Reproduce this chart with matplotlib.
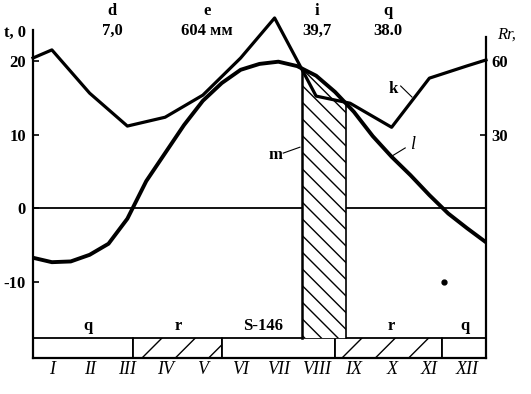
import matplotlib
matplotlib.use("Agg")
import matplotlib.pyplot as plt
import numpy as np

months = ["I", "II", "III", "IV", "V", "VI", "VII", "VIII", "IX", "X", "XI", "XII"]

# temperature curve l (deg), read at month boundaries and month centres
l_x = [0, 0.5, 1, 1.5, 2, 2.5, 3, 3.5, 4, 4.5, 5, 5.5, 6, 6.5, 7, 7.5, 8, 8.5, 9, 9.5, 10, 10.5, 11, 11.5, 12]
l_t = [-6.7, -7.3, -7.2, -6.3, -4.8, -1.4, 3.7, 7.5, 11.3, 14.6, 17.0, 18.8, 19.6, 19.9,
       19.3, 18.0, 15.8, 13.1, 9.8, 7.0, 4.5, 1.8, -0.7, -2.7, -4.6]

# curve k (Rr units, right axis)
k_x = [0, 0.5, 1.5, 2.5, 3.5, 4.5, 5.5, 6.4, 7.5, 8.4, 9.5, 10.5, 11.5, 12]
k_r = [61.2, 64.5, 46.9, 33.5, 37.1, 46.1, 61.2, 77.5, 45.7, 42.8, 33.0, 53.0, 58.0, 60.4]

# strip segments (month units) and hatching flag
strip_edges = [0, 2.65, 5.0, 8.0, 10.83, 12]
strip_hatched = [False, True, False, True, False]
strip_labels = ["q", "r", "S-146", "r", "q"]
strip_label_x = [1.45, 3.85, 6.1, 9.5, 11.45]

# hatched band m
band_m = [7.13, 8.29]

y_ticks = [20, 10, 0, -10]
r_ticks = [60, 30]

top_keys = ["d", "e", "i", "q"]
top_vals = ["7,0", "604 мм", "39,7", "38.0"]
top_x = [112, 207, 317, 388]

W, H = 531, 394
fig = plt.figure(figsize=(W / 100, H / 100), dpi=100)
ax = fig.add_axes([33 / W, 1 - 358 / H, (486 - 33) / W, (358 - 30) / H])
ylo, yhi = -20.3, 24.2
strip_top = -17.6
ax.set_xlim(0, 12)
ax.set_ylim(ylo, yhi)

serif = "Liberation Serif"

ax.spines["top"].set_visible(False)
ax.spines["right"].set_visible(False)
for s in ["left", "bottom"]:
    ax.spines[s].set_linewidth(1.6)

# zero line
ax.axhline(0, color="black", lw=1.3)

# strip
for i in range(len(strip_hatched)):
    x0, x1 = strip_edges[i], strip_edges[i + 1]
    ax.fill_between([x0, x1], ylo, strip_top, facecolor="white",
                    edgecolor="black", lw=1.3,
                    hatch="/" if strip_hatched[i] else None, zorder=2)
for lab, lx in zip(strip_labels, strip_label_x):
    ax.text(lx, strip_top + 1.6, lab, ha="center", va="center", fontsize=12,
            fontweight="bold", family=serif)

# band m
bx = np.linspace(band_m[0], band_m[1], 50)
btop = np.interp(bx, l_x, l_t)
ax.fill_between(bx, strip_top, btop, facecolor="white", edgecolor="black",
                hatch="\\\\", lw=0, zorder=2)
ax.plot([band_m[0], band_m[0]], [strip_top, np.interp(band_m[0], l_x, l_t)],
        color="black", lw=1.8, zorder=3)
ax.plot([band_m[1], band_m[1]], [strip_top, np.interp(band_m[1], l_x, l_t)],
        color="black", lw=1.2, zorder=3)

# curve l
ax.plot(l_x, l_t, color="black", lw=2.8, zorder=4, solid_capstyle="round")

# right axis for k
ax2 = ax.twinx()
ax2.set_ylim(ylo * 3, yhi * 3)
for s in ["top", "left", "bottom"]:
    ax2.spines[s].set_visible(False)
ax2.spines["right"].set_linewidth(1.6)
ax2.spines["right"].set_bounds(ylo * 3, 23.3 * 3)
ax2.plot(k_x, k_r, color="black", lw=2.3, zorder=4, clip_on=False)
ax2.set_yticks(r_ticks)
ax2.set_yticklabels([str(v) for v in r_ticks], fontsize=12, fontweight="bold", family=serif)
ax2.tick_params(axis="y", direction="in", length=4, width=1.2, pad=4)

# left ticks
ax.set_yticks(y_ticks)
ax.set_yticklabels([str(v) for v in y_ticks], fontsize=12, fontweight="bold", family=serif)
ax.tick_params(axis="y", direction="in", length=4, width=1.2, pad=5)

# x ticks
ax.set_xticks(range(13))
ax.set_xticklabels([])
ax.tick_params(axis="x", which="major", direction="in", length=3, width=1.2)
ax.set_xticks(np.arange(12) + 0.5, minor=True)
ax.set_xticklabels(months, minor=True, fontsize=13, fontstyle="italic", family=serif)
ax.tick_params(axis="x", which="minor", length=0, pad=2)

# small circle
ax.plot([10.88], [-10.0], "o", color="black", ms=3.5)

# labels with leaders
ax.text(9.55, 16.2, "k", fontsize=12, fontweight="bold", family=serif, ha="center", va="center")
ax.plot([9.74, 10.04], [16.6, 15.1], color="black", lw=0.8)
ax.text(10.05, 8.7, "l", fontsize=13, fontstyle="italic", family=serif, ha="center", va="center")
ax.plot([9.86, 9.51], [8.2, 7.1], color="black", lw=0.8)
ax.text(6.42, 7.2, "m", fontsize=12, fontweight="bold", family=serif, ha="center", va="center")
ax.plot([6.63, 7.07], [7.5, 8.3], color="black", lw=0.8)

# top annotations
for k, v, x in zip(top_keys, top_vals, top_x):
    fig.text(x / W, 1 - 11 / H, k, ha="center", va="center", fontsize=12,
             fontweight="bold", family=serif)
    fig.text(x / W, 1 - 31 / H, v, ha="center", va="center", fontsize=12,
             fontweight="bold", family=serif)
fig.text(15 / W, 1 - 33 / H, "t, 0", ha="center", va="center", fontsize=12,
         fontweight="bold", family=serif)
fig.text(507 / W, 1 - 35 / H, "Rr,", ha="center", va="center", fontsize=12,
         fontstyle="italic", family=serif)

fig.savefig("out.png", dpi=100)
